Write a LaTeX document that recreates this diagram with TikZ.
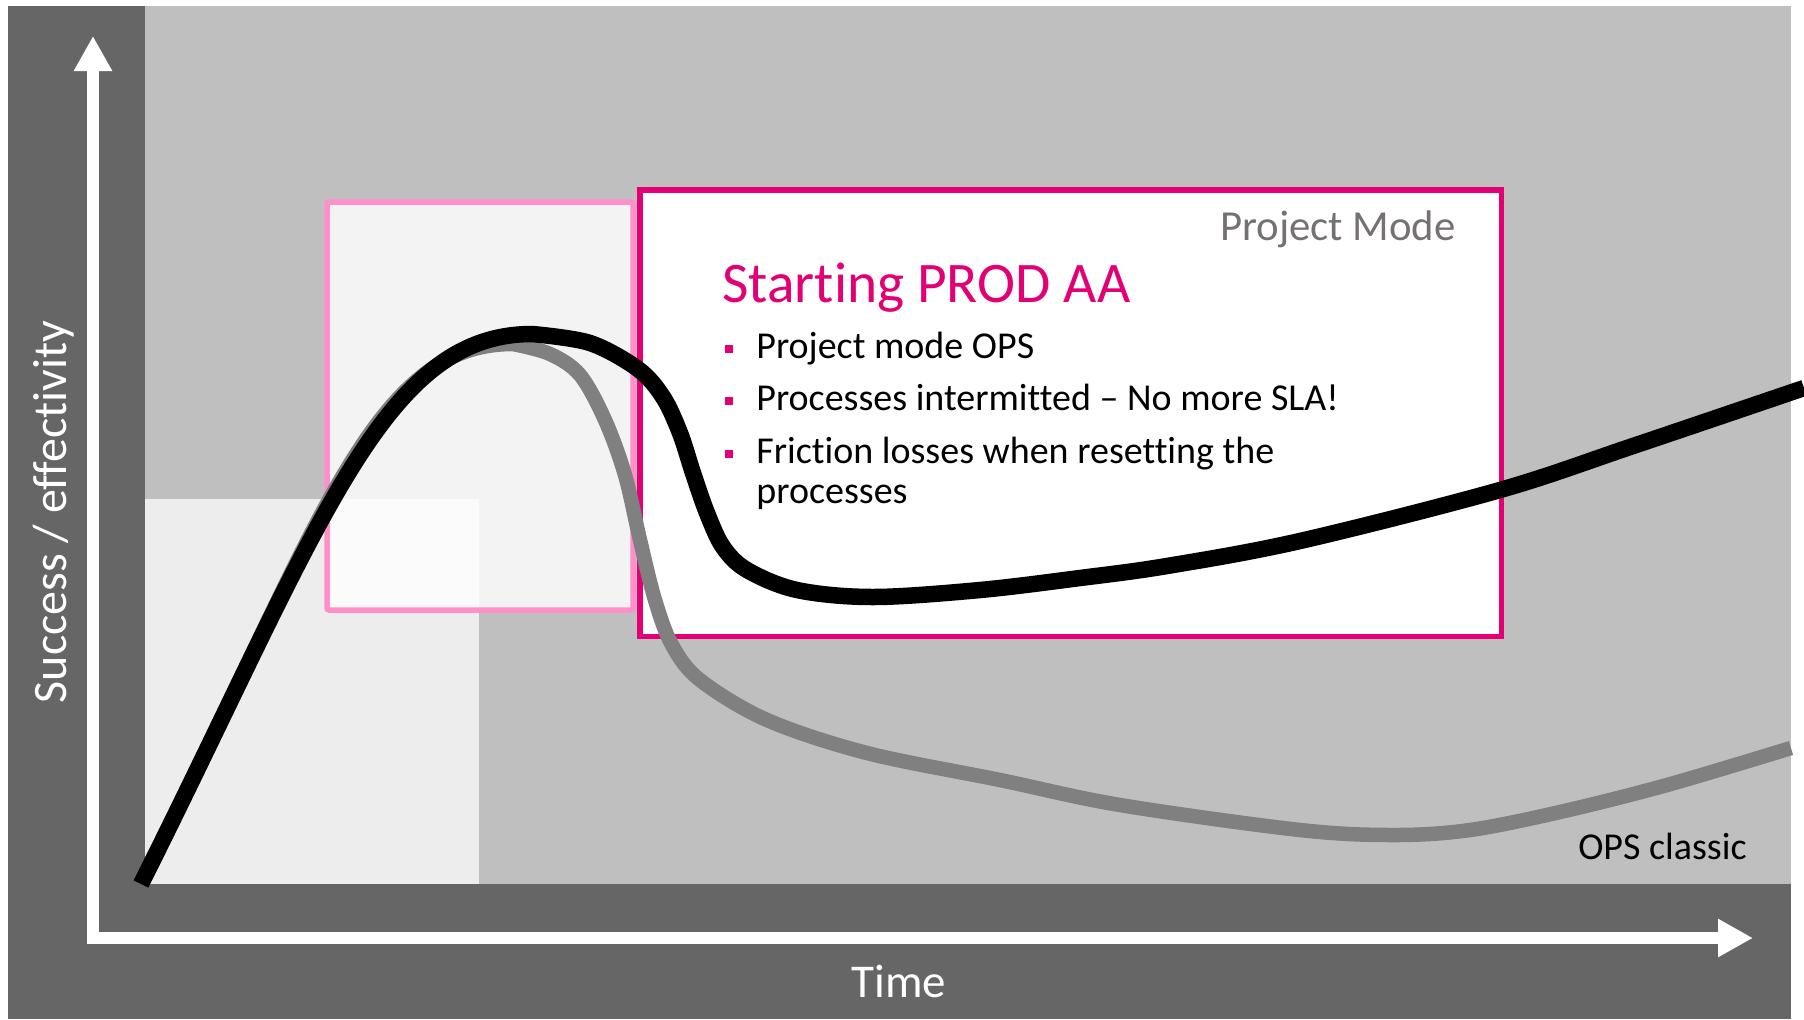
\documentclass[tikz,border=0pt]{standalone}
\usepackage{fontspec}
\setmainfont{Carlito}[Ligatures={TeX,NoCommon}]
\usetikzlibrary{arrows.meta}

\definecolor{telekom}{HTML}{E20074}
\definecolor{softpink}{HTML}{FF8FC8}
\definecolor{darkpanel}{HTML}{666666}
\definecolor{midpanel}{HTML}{BFBFBF}
\definecolor{lightpanel}{HTML}{EDEDED}
\definecolor{oldgray}{HTML}{808080}
\definecolor{modegray}{HTML}{767171}

\tikzstyle{axis} = [white, line width=6pt, line join=miter, <->, >={Triangle[length=17.5pt, width=18pt]}]
\tikzstyle{projectbox} = [draw=telekom, line width=2.75pt, fill=white]
\tikzstyle{shadowbox} = [draw=softpink, line width=2.75pt, fill=white, fill opacity=0.82, rounded corners=1pt]
\tikzstyle{newcurve} = [black, line width=8.25pt, line join=round]
\tikzstyle{oldcurve} = [oldgray, line width=7.25pt, line join=round]
\tikzstyle{heading} = [text=telekom, font=\fontsize{28.7}{34}\selectfont, anchor=base west, inner sep=0]
\tikzstyle{modelabel} = [text=modegray, font=\fontsize{21.4}{25}\selectfont, anchor=base east, inner sep=0]
\tikzstyle{bullettext} = [font=\fontsize{19}{20}\selectfont, anchor=base west, inner sep=0]
\tikzstyle{bulletmark} = [rectangle, fill=telekom, minimum size=4.3pt, inner sep=0]
\tikzstyle{axislabel} = [text=white, font=\fontsize{23.5}{28}\selectfont, anchor=base, inner sep=0]

\begin{document}
\begin{tikzpicture}[x=0.5pt, y=-0.5pt]
    \useasboundingbox (0,0) rectangle (1804,1019);
    \fill[white] (0,0) rectangle (1804,1019);

    % panels
    \fill[darkpanel] (8,6) rectangle (1791,1019);
    \fill[midpanel] (145,6) rectangle (1791,884);
    \fill[lightpanel] (145,499) rectangle (479,884);
    \draw[shadowbox] (327,202) rectangle (633,610);
    \draw[projectbox] (640,190) rectangle (1501.5,636.5);

    % box text
    \node (mode) [modelabel] at (1456,240) {Project Mode};
    \node (title) [heading] at (722,302) {Starting PROD AA};
    \node (item1) [bullettext] at (756,358) {Project mode OPS};
    \node (item2) [bullettext] at (756,410) {Processes intermitted -- No more SLA!};
    \node (item3) [bullettext] at (756,463) {Friction losses when resetting the};
    \node (item3b) [bullettext] at (756,503) {processes};
    \foreach \y [count=\i] in {349,401,454}
        \node (mark\i) [bulletmark] at (729,\y) {};

    % curves
    \coordinate (start) at (141,884);
    \coordinate (oldpeak) at (513,344);
    \coordinate (newpeak) at (532,334);
    \draw[oldcurve] (start) .. controls (321,524) and (370,344) .. (oldpeak)
        -- plot[smooth, tension=0.55] coordinates {(513,344) (550,354) (580,375) (605,420) (625,475) (640,540) (655,600) (672,645) (700,680) (767,720) (867,753) (1000,780) (1120,805) (1300,830) (1395,835) (1470,830) (1560,812) (1667,785) (1791,748)};
    \draw[newcurve] (start) .. controls (321,524) and (382,334) .. (newpeak)
        -- plot[smooth, tension=0.55] coordinates {(532,334) (590,343) (638,369) (663,397) (680,433) (693,473) (707,513) (723,547) (747,570) (797,590) (873,597) (980,590) (1080,578) (1167,566) (1300,541) (1500,490) (1633,446) (1804,388)};
    \node (ops) [bullettext, anchor=base east] at (1747,859) {OPS classic};

    % axes
    \coordinate (ytip) at (93,36);
    \coordinate (origin) at (93,938);
    \coordinate (xtip) at (1753,938);
    \draw[axis] (ytip) -- (origin) -- (xtip);
    \node (time) [axislabel] at (899,997) {Time};
    \node (success) [axislabel, font=\fontsize{24}{28}\selectfont, rotate=90] at (66,512) {Success / effectivity};
\end{tikzpicture}
\end{document}
